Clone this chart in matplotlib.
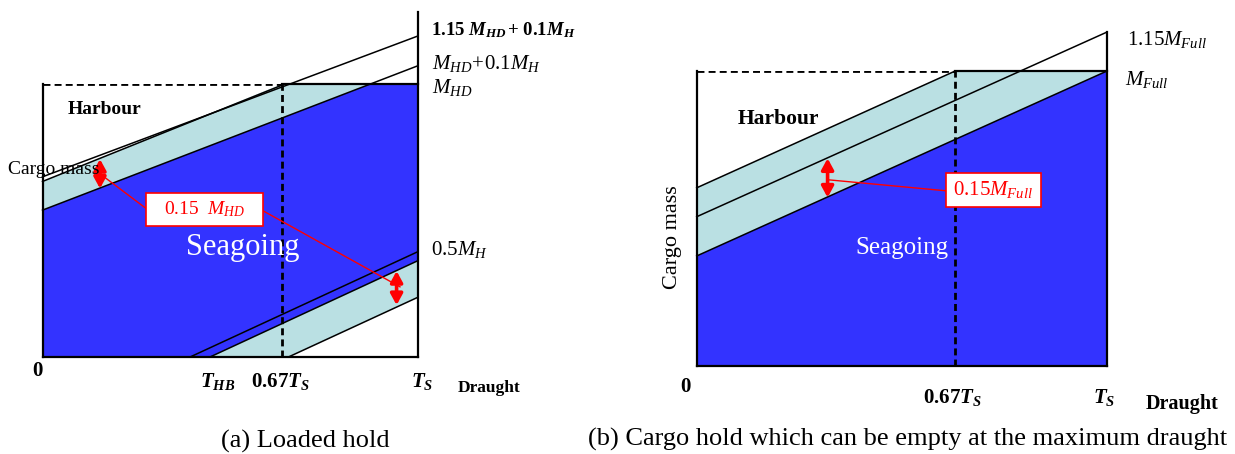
import numpy as np
import matplotlib
matplotlib.use("Agg")
import matplotlib.pyplot as plt
from matplotlib.patches import Rectangle

plt.rcParams['font.family'] = ['Liberation Serif', 'DejaVu Serif']
plt.rcParams['mathtext.fontset'] = 'custom'
plt.rcParams['mathtext.rm'] = 'Liberation Serif'
plt.rcParams['mathtext.it'] = 'Liberation Serif:italic'
plt.rcParams['mathtext.bf'] = 'Liberation Serif:bold'
plt.rcParams['mathtext.bfit'] = 'Liberation Serif:italic:bold'

BLUE = '#3333ff'
CYAN = '#bae0e3'
RED = '#ff0000'

# ---- data: (a) loaded hold, draught 0..1 (T_S), cargo mass 0..1 (M_HD)
a_x = [0.0, 1.0]
a_top = [0.660, 1.176]        # 1.15 M_HD + 0.1 M_H
a_inner = [0.643, 0.996]      # inner harbour limit, ends at 0.67 T_S
a_inner_x = [0.0, 0.638]
a_mid = [0.538, 1.067]        # M_HD + 0.1 M_H
a_low_c = [0.393, 0.386]      # 0.5 M_H : (draught at zero mass, mass at T_S)
a_low_d = [0.446, 0.353]
a_low_e = [0.655, 0.219]
a_dash = 0.638                # 0.67 T_S
a_rim = 1.264

# ---- data: (b) hold empty at max draught, mass 0..1 (M_Full)
b_x = [0.0, 1.0]
b_top = [0.604, 1.0]
b_top_x = [0.0, 0.630]
b_mid = [0.506, 1.132]        # 1.15 M_Full
b_low = [0.373, 1.0]          # M_Full
b_dash = 0.630

fig = plt.figure(figsize=(12.35, 4.54), dpi=100)
W, H = 1235, 454


def px_axes(x0, y_top, x1, y_bot):
    ax = fig.add_axes([x0 / W, 1 - y_bot / H, (x1 - x0) / W, (y_bot - y_top) / H])
    ax.set_xlim(0, 1)
    ax.set_ylim(0, 1)
    ax.axis('off')
    return ax


def ftext(x, y, s, **kw):
    kw.setdefault('va', 'center')
    kw.setdefault('ha', 'left')
    fig.text(x / W, 1 - y / H, s, **kw)


def red_arrow(ax, x, y0, y1):
    ax.annotate('', xy=(x, y1), xytext=(x, y0),
                arrowprops=dict(arrowstyle='<|-|>,head_length=0.55,head_width=0.3',
                                color=RED, lw=2.6, mutation_scale=12,
                                shrinkA=0, shrinkB=0), zorder=6)


lk = dict(color='black', lw=1.1, clip_on=False, zorder=3)
bk = dict(color='black', lw=1.6, clip_on=False, zorder=4)
dk = dict(color='black', lw=2.0, ls=(0, (2.5, 1.5)), zorder=4)

# ================= panel (a)
ax = px_axes(42.5, 84, 418, 357)
x_cross = (1 - a_mid[0]) / (a_mid[1] - a_mid[0])
ax.fill([0, 0, x_cross, 1, 1, a_low_d[0]],
        [0, a_mid[0], 1, 1, a_low_d[1], 0], color=BLUE, lw=0, zorder=1)
ax.fill([0, 0, a_inner_x[1], x_cross], [a_mid[0], a_inner[0], 1, 1],
        color=CYAN, lw=0, zorder=1)
ax.fill([a_low_d[0], 1, 1, a_low_e[0]], [0, a_low_d[1], a_low_e[1], 0],
        color=CYAN, lw=0, zorder=1)

ax.plot(a_x, a_top, **lk)
ax.plot(a_inner_x, a_inner, **lk)
ax.plot(a_x, a_mid, **lk)
for xi, yi in (a_low_c, a_low_d, a_low_e):
    ax.plot([xi, 1], [0, yi], **lk)

ax.plot([0, 0], [0, 1], **bk)
ax.plot([0, 1], [0, 0], **bk)
ax.plot([1, 1], [0, a_rim], **bk)
ax.plot([a_dash, 1], [1, 1], **bk)
ax.plot([0, a_dash], [1, 1], **dk)
ax.plot([a_dash, a_dash], [0, 1], **dk)

red_arrow(ax, 0.153, 0.617, 0.725)
red_arrow(ax, 0.943, 0.190, 0.315)
ax.plot([0.157, 0.275], [0.667, 0.545], color=RED, lw=1.0, zorder=5)
ax.plot([0.588, 0.952], [0.535, 0.257], color=RED, lw=1.0, zorder=5)
ax.add_patch(Rectangle((0.275, 0.481), 0.313, 0.119, fc='white', ec=RED, lw=1.2, zorder=6))
ax.text(0.432, 0.540, r'$0.15\ \ M_{HD}$', color=RED, fontsize=14, ha='center',
        va='center', zorder=7)

ftext(68, 109, 'Harbour', fontsize=14, fontweight='bold')
ftext(243, 248, 'Seagoing', fontsize=22, color='white', ha='center')
ftext(8, 170, 'Cargo mass', fontsize=14, zorder=8)
ftext(431, 30, r'$\mathbf{1.15}\ \mathbfit{M}_{\mathbfit{HD}}\,\mathbf{+}\ \mathbf{0.1}\mathbfit{M}_{\mathbfit{H}}$',
      fontsize=13.5)
ftext(432, 64, r'$M_{HD}\!+\!0.1M_H$', fontsize=15)
ftext(432, 88, r'$M_{HD}$', fontsize=15)
ftext(431, 249, r'$0.5M_H$', fontsize=15)
ftext(32, 372, r'$\mathbf{0}$', fontsize=15)
ftext(200, 382, r'$\mathbfit{T}_{\mathbfit{HB}}$', fontsize=15)
ftext(251, 381, r'$\mathbf{0.67}\mathbfit{T}_{\mathbfit{S}}$', fontsize=15)
ftext(411, 382, r'$\mathbfit{T}_{\mathbfit{S}}$', fontsize=15)
ftext(458, 388, 'Draught', fontsize=12.5, fontweight='bold')
ftext(305, 441, '(a) Loaded hold', fontsize=19, ha='center')

# ================= panel (b)
bx = px_axes(696.7, 71, 1107, 366)
bx.fill([0, 0, 1, 1], [0, b_low[0], b_low[1], 0], color=BLUE, lw=0, zorder=1)
bx.fill([0, 0, b_top_x[1], 1], [b_low[0], b_top[0], 1, 1], color=CYAN, lw=0, zorder=1)
bx.plot(b_top_x, b_top, **lk)
bx.plot(b_x, b_mid, **lk)
bx.plot(b_x, b_low, **lk)

bx.plot([0, 0], [0, 1], **bk)
bx.plot([0, 1], [0, 0], **bk)
bx.plot([1, 1], [0, b_mid[1]], **bk)
bx.plot([b_dash, 1], [1, 1], **bk)
bx.plot([0, b_dash], [1, 1], **dk)
bx.plot([b_dash, b_dash], [0, 1], **dk)

red_arrow(bx, 0.319, 0.571, 0.704)
bx.plot([0.322, 0.607], [0.631, 0.594], color=RED, lw=1.0, zorder=5)
bx.add_patch(Rectangle((0.607, 0.540), 0.231, 0.113, fc='white', ec=RED, lw=1.2, zorder=6))
bx.text(0.722, 0.597, r'$0.15M_{Full}$', color=RED, fontsize=15, ha='center',
        va='center', zorder=7)

ftext(738, 119, 'Harbour', fontsize=15.5, fontweight='bold')
ftext(902, 248, 'Seagoing', fontsize=18, color='white', ha='center')
ftext(673, 237, 'Cargo mass', fontsize=16, rotation=90, ha='center')
ftext(1127, 39, r'$1.15M_{Full}$', fontsize=15)
ftext(1125, 79, r'$M_{Full}$', fontsize=15)
ftext(680, 387, r'$\mathbf{0}$', fontsize=15)
ftext(952, 397, r'$\mathbf{0.67}\mathbfit{T}_{\mathbfit{S}}$', fontsize=15, ha='center')
ftext(1093, 397, r'$\mathbfit{T}_{\mathbfit{S}}$', fontsize=15)
ftext(1146, 404, 'Draught', fontsize=14.5, fontweight='bold')
ftext(908, 439, '(b) Cargo hold which can be empty at the maximum draught',
      fontsize=19, ha='center')

fig.savefig('out.png', dpi=100, facecolor='white')
